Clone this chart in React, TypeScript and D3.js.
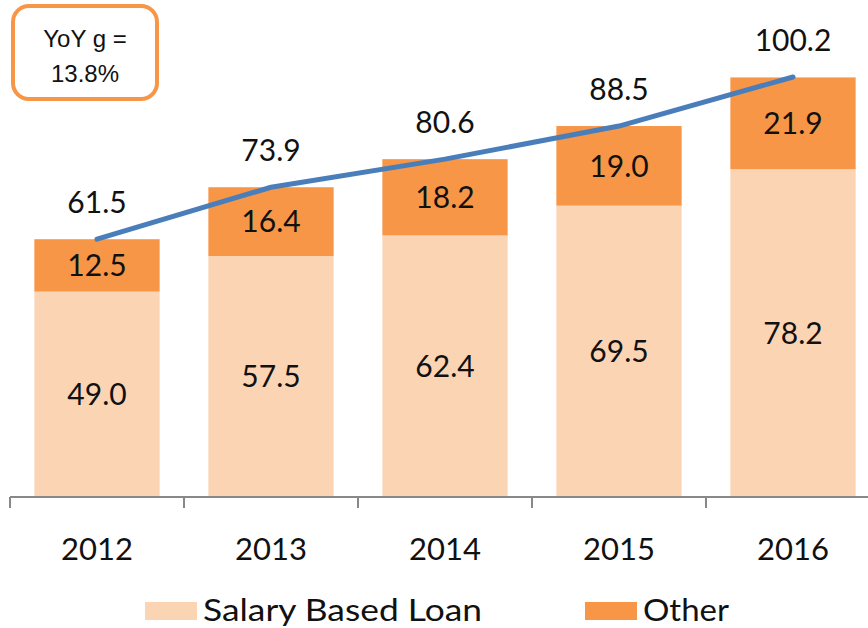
import React from 'react';
import * as d3 from 'd3';

const years = ['2012', '2013', '2014', '2015', '2016'];
const salaryLoan = [49.0, 57.5, 62.4, 69.5, 78.2];
const other = [12.5, 16.4, 18.2, 19.0, 21.9];
const totals = [61.5, 73.9, 80.6, 88.5, 100.2];

const width = 868;
const height = 628;
const baseY = 497;
const font = 'Lato, "Liberation Sans", sans-serif';

const App: React.FC = () => {
  // x band: axis starts at 10, each category 174px wide
  const x = d3.scaleBand<string>().domain(years).range([10, 880]).paddingInner(0.28).paddingOuter(0.14);
  const y = d3.scaleLinear().domain([0, 100.2]).range([baseY, 77]);

  const cx = (i: number) => (x(years[i]) as number) + x.bandwidth() / 2;

  const line = d3.line<number>()
    .x((_, i) => cx(i))
    .y(d => y(d));

  const ticks = d3.range(years.length + 1).map(i => 10 + i * x.step());

  return (
    <div style={{ position: 'absolute', left: 0, top: 0 }}>
      <svg width={width} height={height} style={{ display: 'block', background: '#fff' }}>
        {/* bars */}
        {years.map((yr, i) => (
          <g key={yr}>
            <rect x={x(yr)} y={y(salaryLoan[i])} width={x.bandwidth()} height={baseY - y(salaryLoan[i])} fill="#FBD4B4" />
            <rect x={x(yr)} y={y(salaryLoan[i] + other[i])} width={x.bandwidth()}
              height={y(salaryLoan[i]) - y(salaryLoan[i] + other[i])} fill="#F79646" />
            <text x={cx(i)} y={(y(salaryLoan[i]) + baseY) / 2} dy="0.36em" textAnchor="middle"
              fontFamily={font} fontSize={30} fill="#111">{salaryLoan[i].toFixed(1)}</text>
            <text x={cx(i)} y={(y(salaryLoan[i]) + y(salaryLoan[i] + other[i])) / 2} dy="0.36em" textAnchor="middle"
              fontFamily={font} fontSize={30} fill="#111">{other[i].toFixed(1)}</text>
            <text x={cx(i)} y={y(totals[i]) - 26} textAnchor="middle"
              fontFamily={font} fontSize={30} fill="#111">{totals[i].toFixed(1)}</text>
          </g>
        ))}

        {/* axis */}
        <line x1={10} x2={width} y1={baseY} y2={baseY} stroke="#888" strokeWidth={2} />
        {ticks.map(t => (
          <line key={t} x1={t} x2={t} y1={baseY} y2={baseY + 11} stroke="#888" strokeWidth={2} />
        ))}
        {years.map((yr, i) => (
          <text key={yr} x={cx(i)} y={560} textAnchor="middle" fontFamily={font} fontSize={31} fill="#111">{yr}</text>
        ))}

        {/* total line */}
        <path d={line(totals) as string} fill="none" stroke="#4A7EBB" strokeWidth={5} strokeLinecap="round" strokeLinejoin="round" />

        {/* legend */}
        <rect x={145} y={602} width={52} height={18} fill="#FBD4B4" />
        <text x={203} y={621} fontFamily={font} fontSize={31} fill="#111" textLength={279} lengthAdjust="spacingAndGlyphs">Salary Based Loan</text>
        <rect x={585} y={602} width={52} height={18} fill="#F79646" />
        <text x={643} y={621} fontFamily={font} fontSize={31} fill="#111" textLength={86} lengthAdjust="spacingAndGlyphs">Other</text>

        {/* YoY box */}
        <rect x={13} y={6} width={144} height={93} rx={16} fill="#fff" stroke="#F79646" strokeWidth={4} />
        <text x={85} y={47} textAnchor="middle" fontFamily='"Liberation Sans", sans-serif' fontSize={24} fill="#111">YoY g =</text>
        <text x={85} y={82} textAnchor="middle" fontFamily='"Liberation Sans", sans-serif' fontSize={24} fill="#111">13.8%</text>
      </svg>
    </div>
  );
};

export default App;
